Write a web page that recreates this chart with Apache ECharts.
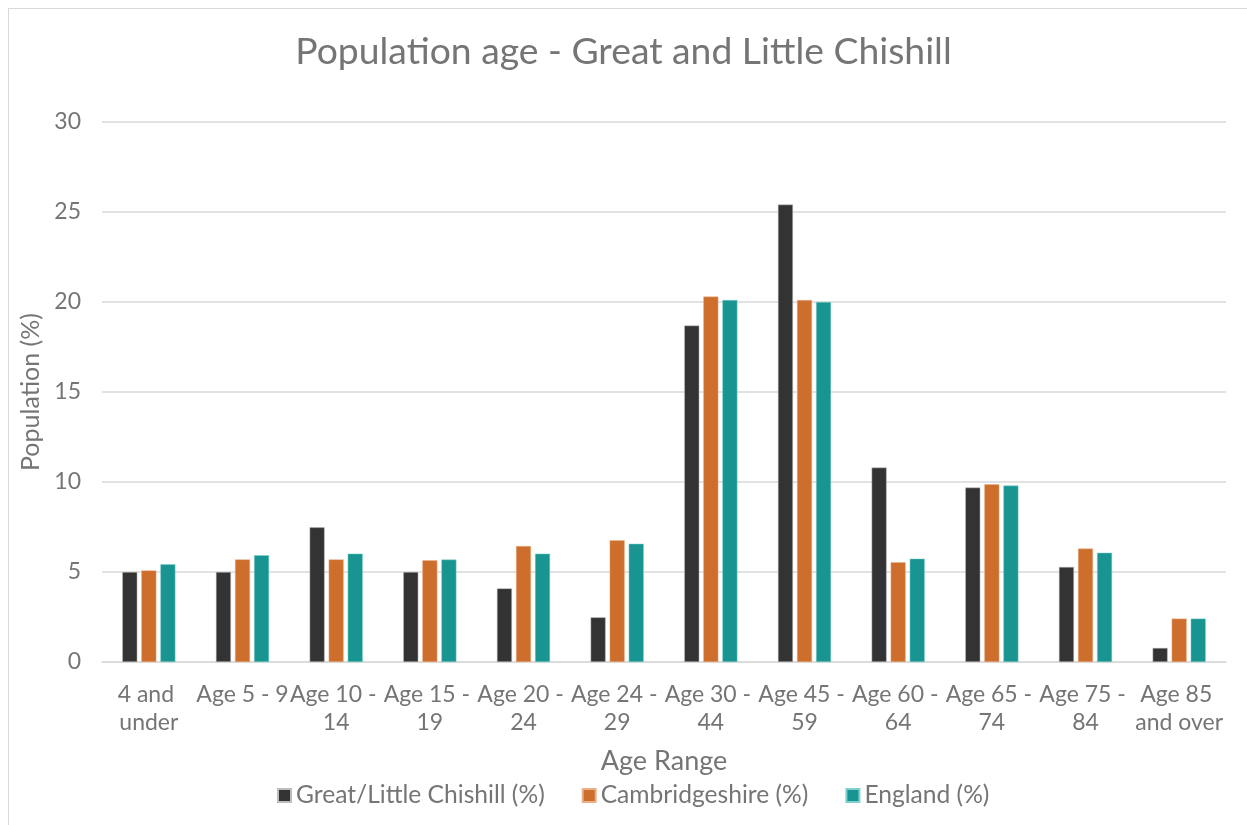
<!DOCTYPE html>
<html>
<head>
<meta charset="utf-8">
<script src="https://cdn.jsdelivr.net/npm/echarts@6/dist/echarts.min.js"></script>
<style>
html,body{margin:0;padding:0;background:#fff;}
#frame{position:absolute;left:8px;top:8px;width:1300px;height:900px;border-left:1px solid #d9d9d9;border-top:1px solid #d9d9d9;}
#chart{position:absolute;left:0;top:0;width:1247px;height:825px;}
</style>
</head>
<body>
<div id="frame"></div>
<div id="chart"></div>
<script>
const categories = ['4 and under','Age 5 - 9','Age 10 - 14','Age 15 - 19','Age 20 - 24','Age 24 - 29','Age 30 - 44','Age 45 - 59','Age 60 - 64','Age 65 - 74','Age 75 - 84','Age 85 and over'];
const chishill = [5.0, 5.0, 7.48, 5.0, 4.09, 2.48, 18.69, 25.41, 10.8, 9.69, 5.28, 0.78];
const cambridgeshire = [5.09, 5.7, 5.7, 5.65, 6.44, 6.76, 20.3, 20.11, 5.54, 9.87, 6.3, 2.41];
const england = [5.43, 5.93, 6.02, 5.69, 6.02, 6.57, 20.11, 20.0, 5.74, 9.8, 6.07, 2.41];
const yTicks = [0, 5, 10, 15, 20, 25, 30];

const font = 'Lato';
const txt = '#757575';
const chart = echarts.init(document.getElementById('chart'));
chart.setOption({
  animation: false,
  textStyle: {fontFamily: font},
  title: {
    text: 'Population age - Great and Little Chishill',
    left: 'center', top: 28,
    textStyle: {fontFamily: font, fontSize: 37.3, fontWeight: 'normal', color: txt}
  },
  legend: {
    top: 778, left: 272,
    itemWidth: 13, itemHeight: 13, itemGap: 37,
    icon: 'rect',
    textStyle: {fontFamily: font, fontSize: 24.6, color: txt}
  },
  grid: {left: 102, right: 21, top: 122, bottom: 163, containLabel: false},
  xAxis: {
    type: 'category',
    data: categories,
    name: 'Age Range', nameLocation: 'middle', nameGap: 86,
    nameTextStyle: {fontFamily: font, fontSize: 27, color: txt},
    axisLine: {lineStyle: {color: '#d9d9d9', width: 1.5}},
    axisTick: {show: false},
    axisLabel: {
      interval: 0, fontFamily: font, fontSize: 23, color: txt, lineHeight: 28, margin: 19,
      width: 96, overflow: 'break'
    }
  },
  yAxis: {
    type: 'value', min: yTicks[0], max: yTicks[yTicks.length - 1], interval: 5,
    name: 'Population (%)', nameLocation: 'middle', nameGap: 59,
    nameTextStyle: {fontFamily: font, fontSize: 25, color: txt},
    axisLine: {show: false}, axisTick: {show: false},
    axisLabel: {fontFamily: font, fontSize: 23, color: txt, margin: 21},
    splitLine: {lineStyle: {color: '#d9d9d9', width: 1.5}}
  },
  series: [
    {name: 'Great/Little Chishill (%)', type: 'bar', data: chishill, barWidth: 15, barGap: '27%',
     itemStyle: {color: '#333333', borderColor: '#bdbdbd', borderWidth: 0.5}},
    {name: 'Cambridgeshire (%)', type: 'bar', data: cambridgeshire, barWidth: 15, barGap: '27%',
     itemStyle: {color: '#CD6E2D', borderColor: '#eab08a', borderWidth: 0.5}},
    {name: 'England (%)', type: 'bar', data: england, barWidth: 15, barGap: '27%',
     itemStyle: {color: '#189590', borderColor: '#7fd0cc', borderWidth: 0.5}}
  ]
});
</script>
</body>
</html>
